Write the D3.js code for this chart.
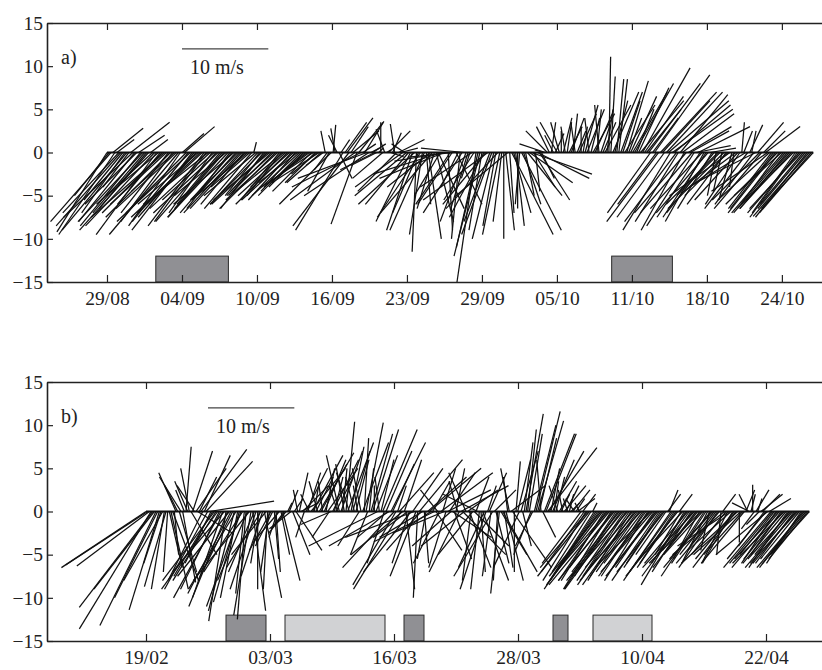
<!DOCTYPE html>
<html>
<head>
<meta charset="utf-8">
<script src="https://cdn.jsdelivr.net/npm/d3@7"></script>
<style>
  body { margin: 0; background: #fff; }
  text { font-family: "Liberation Serif", "DejaVu Serif", serif; }
</style>
</head>
<body>
<div id="container"></div>
<script>
/* CONSTANTS AND GLOBALS */
const width = 822, height = 670;
const serif = "'Liberation Serif', 'DejaVu Serif', serif";

// tick labels (equally spaced along the time axis)
const tickLabelsA = ["29/08", "04/09", "10/09", "16/09", "23/09", "29/09", "05/10", "11/10", "18/10", "24/10"];
const tickDaysA = [0, 6.3, 12.6, 18.9, 25.2, 31.5, 37.8, 44.1, 50.4, 56.7];
const tickLabelsB = ["19/02", "03/03", "16/03", "28/03", "10/04", "22/04"];
const tickDaysB = [0, 12.4, 24.8, 37.2, 49.6, 62];
const yTicks = [-15, -10, -5, 0, 5, 10, 15];

// wind vectors [u, v] in m/s, six samples per day (one row = one day)
const windA = [
  [-5.8,-9.2],[-4,-5],[-7,-8],[3.5,2.8],[-6.5,-9.5],[2,1.5],
  [-6.5,-7],[-7.5,-8.5],[-4.5,-5.5],[-5,-7],[-7.5,-9],[-3,-4],
  [4.5,3.5],[-8,-7.5],[-6.5,-8],[-6,-6],[3,2],[-7,-8.5],
  [-7.5,-8],[-6,-7],[-5.5,-6.5],[-8,-9],[2,1.5],[-6.5,-6],
  [-8,-8.5],[-7,-9.5],[-6,-5],[-5,-6],[-7,-7],[-8.5,-7.5],
  [-6.5,-6],[-5.5,-7],[-7.5,-7.5],[-6,-8],[-5,-4.5],[-7,-6.5],
  [-8,-9.5],[-6,-8.5],[2.5,2.2],[3.5,3],[-7,-7],[-6.5,-8],
  [-8.5,-8],[-7,-9],[-6.5,-7.5],[-5.5,-6],[-7,-6],[-8,-7.5],
  [-7.5,-7],[-6.5,-8.5],[-6,-8],[-7.5,-6],[-7,-6.5],[-5,-7],
  [-6,-5.5],[-7,-8],[-7.5,-7],[-5,-6],[-5.5,-6.5],[-6.5,-7.5],
  [-6,-5],[-7,-7.5],[-5,-6.5],[-6,-7],[-7,-6],[-4.5,-5],
  [-5.5,-5.5],[-6.5,-7],[-6,-6.5],[-5,-6],[-5,-4.5],[-6.5,-5.5],
  [-4.5,-4],[-5.5,-6.5],[0.3,1.2],[-6,-5],[-5.5,-6],[-4,-5],
  [-6,-6],[-5,-6.5],[-4.5,-5],[-6.5,-6],[-6.5,-5.5],[-5,-5],
  [-5,-4.5],[-6.5,-6.5],[-6,-5.5],[-4.5,-5.5],[-4,-5],[-5.5,-4.5],
  [-5.5,-5],[-6,-6],[-4.5,-4],[-5,-5.5],[-6,-5.5],[-4,-4.5],
  [-4.5,-3.5],[-5.5,-5],[-5,-5],[-4,-4],[-3.5,-3],[-5,-4],
  [-4,-3],[-4.5,-4.5],[-6,-4],[-3.5,-3.5],[-3,-2.5],[-5.5,-3.5],
  [-4,-3.5],[-2,-1.5],[-0.5,2.5],[-1.5,-2],[-2.5,-4.5],[-6,-6],
  [0.3,3.2],[-0.5,2.8],[-1,2],[1.5,-3],[1,1.5],[-5.5,-9],
  [2.5,3.5],[3,4],[-6.5,-8.5],[2,3],[3,2.5],[-7.5,-5.5],
  [-3,-8.3],[2.8,3.5],[-8,-4],[1.5,1],[2.2,3.6],[-8,-3],
  [-7.5,-5],[1,0.5],[1.5,1],[-4,-2],[-3,-1.5],[0.5,0.5],
  [0,3.5],[-3.5,-3],[-1,2.7],[0.5,0.3],[2.5,2.5],[1.5,-0.5],
  [1,2.3],[-0.5,3.3],[-4.5,-4.5],[3,1.5],[2,0.5],[-5.5,-4],
  [-1.5,1],[-6,-5],[-5,-6],[-4,-8],[-3,-9],[-6.5,-6],
  [-0.5,-11.5],[-3,-7],[-5,-7.5],[-1.5,-9.5],[-4,-9],[0.5,-6],
  [1.5,-10],[-5,-4],[-6,-7],[-2,-6.5],[2,-8],[3,-6.5],
  [-3,-5],[-8,-2.5],[-7.5,-3],[-6,-1],[0.5,-9],[-4,-6],
  [-4,-6],[-5,-0.5],[3,-6],[-2,-4],[-1,-10],[-4.5,-7],
  [-5,0.5],[-3,-8],[-2,-6.5],[-1,-3],[-6,-4],[-3.5,-5.5],
  [-2.2,-15],[-2.5,-11],[-3,-12],[-1.5,-9],[-4,-7.5],[-5,-6],
  [-7.5,-5.5],[-3,-8],[-3.5,-9.5],[-2.5,-10],[-1.5,-8.5],[-6,-6.5],
  [-2,-9.5],[-1,-8],[0,-10],[1,-9],[-6,-5],[0.5,-7],
  [4.8,-9.5],[2,-7],[1,-8.5],[0,-6.5],[-0.5,-6],[4.6,-9],
  [2,-6],[1,-5],[4,-5],[5,-3.5],[7,-2.5],[2.5,-4],
  [0.5,-4.5],[6,-3],[3.5,-5.5],[1.5,-3],[-1,0.3],[-3,1],
  [-2.5,2.5],[-1.5,3],[0.5,3.5],[-1,2],[1,2.2],[-2,3.5],
  [-1,3.5],[0,2.5],[1,4],[-0.5,3],[0.5,3.5],[1.5,3],
  [1.5,4],[0.5,4.5],[-0.5,3.5],[1,2.5],[2,4.5],[0,3],
  [0.5,3],[1.5,5.5],[2,5],[-0.5,4],[1,4],[2.5,4.5],
  [2,4.5],[0.5,5],[-0.5,5.5],[1,3],[1.5,3.5],[3,5.5],
  [0.7,5],[0.2,11.1],[0.5,8.8],[3,7],[1.5,6],[0.8,8.5],
  [1,8.5],[2.5,7],[2,6],[3.5,5.5],[2.5,8.3],[1.5,4],
  [3,6.5],[4,7],[4.5,8],[2,5],[3.5,7.5],[5,6],
  [5.5,9.8],[4.5,6.5],[4,5],[6,8],[-5,-7],[3,4],
  [6.4,9],[-4.5,-6],[-6,-8],[6.5,7],[5.5,6],[-5.5,-7.5],
  [6.5,7],[7,6],[-5.5,-9],[7,5],[6.5,5.5],[-6,-8],
  [-5,-8],[5.5,6.7],[6,4.5],[-5,-9],[-6,-7],[5,3],
  [4.5,2.5],[-6,-7],[-5.5,-8.5],[4,0.8],[6,3],[-5,-7.5],
  [-6,-6.5],[-4.5,-8],[-5,-7.5],[-6,-7],[3,0.5],[-4,-6.5],
  [-5.5,-7],[-1,-5],[-6,-6],[-5,-5],[-1,-4.5],[-6.5,-6.5],
  [-4.5,-6],[-5,-5],[-7,-5],[-1.5,-5.5],[-0.5,-4],[-6,-4.5],
  [-5,-5.5],[-4,-6],[0.3,3.5],[1,2.5],[-6.5,-4],[-5,-6.5],
  [1.5,3.2],[0.5,2.5],[-4.5,-6],[-7,-3.5],[3,3.5],[-5.5,-5.5],
  [-5.5,-6.5],[2.5,2.5],[4,3],[-6.5,-4.5],[-6,-5.5],[-5,-6.5],
  [-5,-6.5],[-5.5,-7],[-6,-6],[-4.5,-6],[-5.5,-5],[-6,-7],
  [-6,-7],[-5.5,-6.5],[-5,-5.5],[-6,-6.5],[-6.5,-6.5],[-5,-7],
  [-5.5,-7.5],[-6,-7],[-6,-6.5],[-5,-6],[-5.5,-6.5],[-6,-7.5],
  [-6.5,-7.4],[-6,-7],[-6,-6.5]
];

const windB = [
  [-9.8,-6.5],[-9.5,-6.2],[-8.4,-6.3],[-8.3,-13.6],[-8.5,-11.1],[-7,-9],
  [-6.5,-13.2],[-5,-10],[-3.5,-11.4],[-2,-6],[-4.5,-8],[-1.5,-9],
  [-2.5,-8.7],[-0.5,-7],[1.5,-6.5],[2,-9],[3,-8],[0.5,-5],
  [-2,4.5],[-1.5,3],[2,-7],[-2.5,4],[1.5,-8.2],[-1,2.5],
  [0.6,7.5],[-1.5,3.5],[-1,5],[3,-5],[2.3,7],[-2,3],
  [3.5,5],[4,-2.5],[2,4],[5.3,7.2],[-4,-8],[3,6.5],
  [5.4,5.8],[-5,-9],[7.5,1.2],[-3,-6],[-4.5,-7.5],[-6,-8],
  [-5,-8],[-6.5,-9],[-4.5,-9],[-5.5,-10],[-3.5,-10],[-6,-7],
  [-2,-12.7],[-4.5,-11],[-6,-7.5],[-5,-9.5],[-4,-8],[-3,-11.5],
  [-5.5,-9],[-2,-10],[-3,-10.5],[-4,-11],[-4.5,-7],[-1,-9.5],
  [-1,-12.5],[-3.5,-8],[-6.5,-8],[-2,-12],[1.5,-11.5],[-3,-7],
  [-3,-9],[0,-9],[-1,-6],[-4,-6.5],[-2.5,-7.5],[2,-10],
  [-4,-5],[-0.5,-9],[-1,-7],[-2.5,-4.5],[-2,-4],[0.5,-5.5],
  [0.5,-7],[-1,-3],[-3,-3.5],[1,-5],[2,-8],[-1.5,-2],
  [-2,-2.5],[0.5,1],[1,2.5],[-2.5,-2],[2,-5],[1,1.5],
  [3,-4.5],[-0.5,2.5],[1,4.5],[2,1],[3,3],[-1,-3],
  [2.5,5],[1.5,4.5],[-1,2],[4,5],[3.5,6.5],[0.5,3],
  [2,4],[-1,3.5],[4,6.8],[3,5.5],[-0.5,3.5],[2.5,6],
  [1,5],[3.5,5],[-2,-3],[-3.5,-1.5],[3,6],[1,4],
  [2,4],[-1,3],[-1.5,6.5],[2.5,7],[0.5,5],[-1,5.5],
  [1,10.4],[3,8],[-1.5,4.5],[1.5,7.5],[2,7],[-1,4],
  [1.5,6],[-0.5,3],[-2.5,-4],[-1,5],[3,8],[0.5,8.5],
  [2,10.3],[-2,-5],[0.5,5],[2.5,9],[3,9.5],[0,3],
  [2.5,6.5],[-8,-4],[-0.5,4],[1.5,6],[4,9.5],[-2,-6],
  [3,7],[-3.5,-3],[-7,-4],[4,8],[2.5,5.5],[-6,-6.5],
  [-5,-8.5],[1,3],[4,4.5],[-5.5,-9],[-6,-5],[2,6],
  [1,-9],[-4,-3],[-2,-6],[-5.5,-7],[3.5,5],[-8,-3],
  [-3,-7.5],[-0.5,-10],[5,6],[-4,-4.5],[-5,-3],[0.5,-6],
  [-1,-5.5],[4.5,4],[6,5],[-3,-2],[2,3.5],[-7,-3.5],
  [3,-4.5],[-2,2.5],[-3,-6],[6,4.5],[1.5,5],[-6,-2.5],
  [-2,-6.5],[5,2.5],[3,4.5],[-4.5,-4],[4.5,-3],[2,-5.5],
  [1,5],[-1,3.5],[-3.5,-7],[5.5,3],[5,-5],[-5,-4],
  [-2,4.5],[3.5,2.5],[2.5,-6.5],[-1,-8],[-4,-5],[4,-4],
  [1.5,4],[-4,2],[-1,-9],[0.5,-7],[3,-8],[-3,-6.5],
  [-3,-9],[1,3],[2,4.5],[-1,-7.5],[-4.5,-7.5],[2.5,2.5],
  [1.5,-6],[-0.5,-8],[-1,-9.5],[3,-5],[4,-7],[1,-6.5],
  [2,-8],[-0.5,4],[-1,5],[4,3],[4.5,-6.5],[0,-7],
  [0.5,5.8],[1.5,6],[-3,-6.5],[2,7],[1,-4],[1,8],
  [2,11.3],[1,9.5],[1.5,9],[-2,-5],[-2,-4],[2.5,10],
  [2.8,11.6],[3,10.5],[2,8.5],[-0.5,6],[1.5,-3],[3.5,9],
  [3.5,9],[5.7,7.4],[4,7],[1,5],[2.5,6],[0.5,3.5],
  [1,4],[-1,3],[2,3.5],[1,2],[-0.5,2.5],[2.5,3],
  [1.5,3],[-0.5,1.5],[0.5,2],[1,1],[2,2.5],[-1,1.5],
  [1,1.5],[2,1.5],[-0.5,1],[-4.5,-6],[1.5,2],[-5,-7],
  [-5,-8],[-5.5,-6.5],[-6,-7.5],[-4.5,-7],[0.5,1],[-5.5,-8.5],
  [-6,-9],[-5.5,-8],[-5,-7],[-6,-7.5],[-6.5,-8.5],[-5,-8],
  [-5.5,-8],[-6,-7],[-7,-8.5],[-5.5,-9],[-5,-6.5],[-6.5,-8],
  [-6,-9],[-5,-7.5],[-5.5,-7],[-6.5,-9],[-6.5,-8],[-5.5,-8],
  [-5,-7.5],[-6.5,-7.5],[-6,-8.5],[-5,-8],[-5.5,-6.5],[-6,-8.5],
  [-6.5,-8],[-5.5,-7.5],[-5,-7],[-6,-6.5],[-4.5,-6],[-5,-7.5],
  [-5.5,-7.5],[-5,-8],[-4,-5],[-6,-6],[-6,-7],[-4.5,-6.5],
  [-5,-6.5],[-6,-7.5],[-5.5,-8],[-4,-6],[-4.5,-6.5],[-5.5,-7],
  [-3.5,-5],[1.5,2],[1,2.5],[-5.5,-8],[-5,-7],[-4,-6],
  [-4.5,-6.5],[-6,-7.5],[1.5,2],[-3,-5],[-5.5,-6],[-5,-8.5],
  [-4,-6],[-5,-6],[-5.5,-7.5],[-4.5,-7],[-3.5,-4.5],[-6,-6.5],
  [-5,-6.5],[-4,-5],[-3,-5.5],[-6,-6],[-4.5,-5],[-5,-7.5],
  [-4,-6],[-3,-6],[-1,-4.5],[-5.5,-6.5],[-5,-5.5],[-4,-5],
  [-3,-4],[-4.5,-6.5],[-5,-6],[-0.5,-5],[1.5,2],[-6,-5],
  [-4,-5],[-3,-6],[-6,-4],[-5,-4.5],[-3.5,-6],[-4.5,-5.5],
  [-5,-6.5],[-6.5,-6],[0,-3.6],[-5.5,-5],[-4.5,-5],[-5,-6],
  [1,2.5],[-1,2],[-2,1],[0.5,2],[0,3.1],[-1.5,-2],
  [1.5,2.5],[0.5,1.5],[-1.5,-1.5],[2.5,2],[2,2],[-3,-4],
  [-4.5,-5.5],[-6,-5],[2.5,1.5],[-5.5,-6.5],[-5,-6],[-4,-5],
  [-4,-6],[-5,-5.5],[-5.5,-6.5],[-3.5,-5],[-4.5,-5.5],[-6,-6],
  [-5,-6],[-4.5,-6.5],[-4,-5],[-5,-5.5],[-5.5,-6.5],[-4.5,-6],
  [-5,-6],[-5.5,-6],[-4.5,-5.5],[-4,-6],[-5,-6.5],[-5.5,-6.5],
  [-5.1,-6.1],[-4.5,-5.5],[-4.5,-5]
];
const samplesPerDay = 6;

// shaded periods [startDay, endDay, kind]
const periodsA = [[4.1, 10.2, "dark"], [42.4, 47.5, "dark"]];
const periodsB = [[8.0, 12.0, "dark"], [13.9, 23.9, "light"], [25.8, 27.8, "dark"],
                  [40.7, 42.2, "dark"], [44.7, 50.6, "light"]];

const panels = [
  { label: "a)", wind: windA, periods: periodsA, tickDays: tickDaysA, tickLabels: tickLabelsA,
    domain: [-5.04, 60.07], top: 23, bottom: 282, barDay: 6.3 },
  { label: "b)", wind: windB, periods: periodsB, tickDays: tickDaysB, tickLabels: tickLabelsB,
    domain: [-9.9, 67.6], top: 382, bottom: 641, barDay: 6.2 }
];

const svg = d3.select("#container")
  .append("svg")
  .attr("width", width)
  .attr("height", height);

panels.forEach(p => {
  const g = svg.append("g");

  /* SCALES */
  const xScale = d3.scaleLinear().domain(p.domain).range([47, 822]);
  const yScale = d3.scaleLinear().domain([-15, 15]).range([p.bottom, p.top]);
  const k = yScale(0) - yScale(1);   // px per m/s, same in both directions

  // shaded periods
  g.selectAll("rect.period")
    .data(p.periods)
    .join("rect")
    .attr("class", "period")
    .attr("x", d => xScale(d[0]))
    .attr("width", d => xScale(d[1]) - xScale(d[0]))
    .attr("y", yScale(-12))
    .attr("height", yScale(-15) - yScale(-12))
    .attr("fill", d => d[2] === "dark" ? "#909094" : "#d1d2d4")
    .attr("stroke", "#2a2a2a")
    .attr("stroke-width", 1);

  // sticks
  const sticks = p.wind.map((d, i) => ({ t: i / samplesPerDay, u: d[0], v: d[1] }));
  g.append("line")
    .attr("x1", xScale(sticks[0].t))
    .attr("x2", xScale(sticks[sticks.length - 1].t))
    .attr("y1", yScale(0)).attr("y2", yScale(0))
    .attr("stroke", "#111").attr("stroke-width", 1.8);

  g.selectAll("line.stick")
    .data(sticks)
    .join("line")
    .attr("class", "stick")
    .attr("x1", d => xScale(d.t))
    .attr("y1", yScale(0))
    .attr("x2", d => xScale(d.t) + d.u * k)
    .attr("y2", d => yScale(d.v))
    .attr("stroke", "#111")
    .attr("stroke-width", 1.25);

  /* AXES */
  const yAxis = d3.axisLeft(yScale).tickValues(yTicks).tickSizeInner(-6).tickSizeOuter(0).tickPadding(4);
  g.append("g").attr("transform", "translate(47,0)").call(yAxis);

  const xAxis = d3.axisBottom(xScale).tickValues(p.tickDays)
    .tickFormat((d, i) => p.tickLabels[i]).tickSizeInner(-7).tickSizeOuter(0).tickPadding(9.5);
  g.append("g").attr("transform", `translate(0,${p.bottom})`).call(xAxis);

  const topAxis = d3.axisTop(xScale).tickValues(p.tickDays).tickFormat("")
    .tickSizeInner(-7).tickSizeOuter(0);
  g.append("g").attr("transform", `translate(0,${p.top})`).call(topAxis);

  g.selectAll(".domain").attr("stroke", "#222").attr("stroke-width", 1.6);
  g.selectAll(".tick line").attr("stroke", "#222").attr("stroke-width", 1.2);
  g.selectAll(".tick text").attr("font-size", 19.5).attr("fill", "#222")
    .attr("font-family", serif);

  // panel label and 10 m/s scale bar
  g.append("text").attr("x", 61).attr("y", yScale(11)).attr("dy", "0.32em")
    .attr("font-family", serif).attr("font-size", 20).attr("fill", "#222").text(p.label);
  const bx = xScale(p.barDay);
  g.append("line").attr("x1", bx).attr("x2", bx + 10 * k)
    .attr("y1", yScale(12)).attr("y2", yScale(12))
    .attr("stroke", "#444").attr("stroke-width", 1.3);
  g.append("text").attr("x", bx + 8).attr("y", yScale(9.8)).attr("dy", "0.32em")
    .attr("font-family", serif).attr("font-size", 20).attr("fill", "#222").text("10 m/s");
});
</script>
</body>
</html>
